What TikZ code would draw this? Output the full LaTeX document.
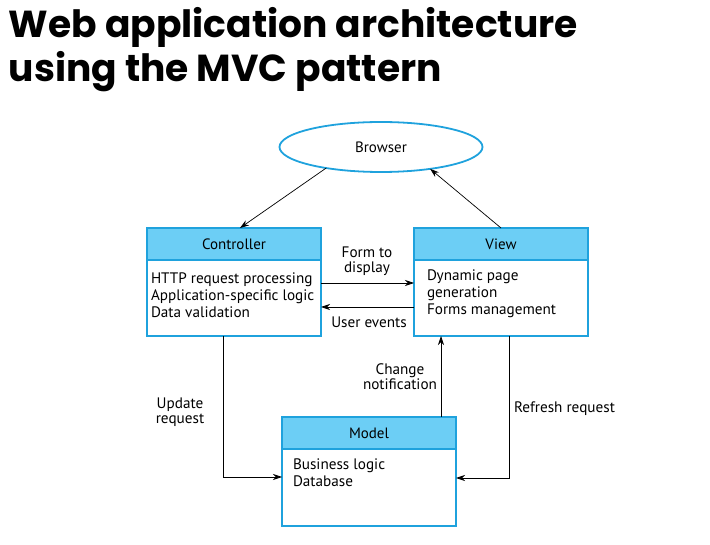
\documentclass[tikz,border=0pt]{standalone}
\usepackage{fontspec}
\setmainfont{PT Sans}
\newfontfamily\titlefont{Poppins}
\usetikzlibrary{arrows.meta,shapes.geometric,calc}
\definecolor{mvcedge}{HTML}{1FA2DD}
\definecolor{mvchead}{HTML}{6CCEF5}
\begin{document}
\begin{tikzpicture}[x=1pt,y=-1pt,
  every node/.style={inner sep=0pt, outer sep=0pt},
  boxframe/.style={draw=mvcedge, line width=2pt, fill=white, minimum width=174pt, anchor=north west},
  boxhead/.style={draw=mvcedge, line width=2pt, fill=mvchead, minimum width=174pt, minimum height=32pt, anchor=north west, font=\fontsize{15}{17}\selectfont},
  boxtext/.style={anchor=north west, align=left, font=\fontsize{15.2}{17}\selectfont},
  lbl/.style={align=center, font=\fontsize{15.2}{15}\selectfont},
  arr/.style={draw=black, line width=0.7pt, -{Stealth[length=9pt,width=6pt]}}
]
\useasboundingbox (0,0) rectangle (710,545);

% title
\node[anchor=base west, font=\titlefont\bfseries\fontsize{37.6}{40}\selectfont] (title1) at (9,38) {Web application architecture};
\node[anchor=base west, font=\titlefont\bfseries\fontsize{37.6}{40}\selectfont] (title2) at (9,82) {using the MVC pattern};

% browser
\node[ellipse, draw=mvcedge, line width=1.8pt, minimum width=203pt, minimum height=50pt, font=\fontsize{15}{16}\selectfont] (browser) at (381,147) {Browser};

% controller
\node[boxframe, minimum height=108pt] (ctrl) at (147,228) {};
\node[boxhead] (ctrlh) at (ctrl.north west) {Controller};
\node[boxtext] (ctrlt) at (151,273) {HTTP request processing\\Application-specific logic\\Data validation};

% view
\node[boxframe, minimum height=108pt] (view) at (414,228) {};
\node[boxhead] (viewh) at (view.north west) {View};
\node[boxtext] (viewt) at (427,270) {Dynamic page\\generation\\Forms management};

% model
\node[boxframe, minimum height=109pt] (model) at (282,417) {};
\node[boxhead] (modelh) at (model.north west) {Model};
\node[boxtext] (modelt) at (293,459) {Business logic\\Database};

% connectors
\draw[arr] (browser.201) -- ([xshift=6pt]ctrl.north);
\draw[arr] (view.north) -- (browser.336);
\draw[arr] (ctrl.east |- 0,283) -- (view.west |- 0,283);
\draw[arr] (view.west |- 0,307) -- (ctrl.east |- 0,307);
\draw[arr] (model.north -| 441,0) -- (view.south -| 441,0);
\draw[arr] (ctrl.south -| 223,0) -- (223,477) -- (model.west |- 0,477);
\draw[arr] (view.south -| 509,0) -- (509,478) -- (model.east |- 0,478);

% labels
\node[lbl] (lform) at (367,261) {Form to\\display};
\node[lbl] (luser) at (369,322) {User events};
\node[lbl] (lchange) at (400,377) {Change\\notification};
\node[lbl] (lupdate) at (180,412) {Update\\request};
\node[lbl, anchor=west] (lrefresh) at (514,409) {Refresh request};
\end{tikzpicture}
\end{document}
